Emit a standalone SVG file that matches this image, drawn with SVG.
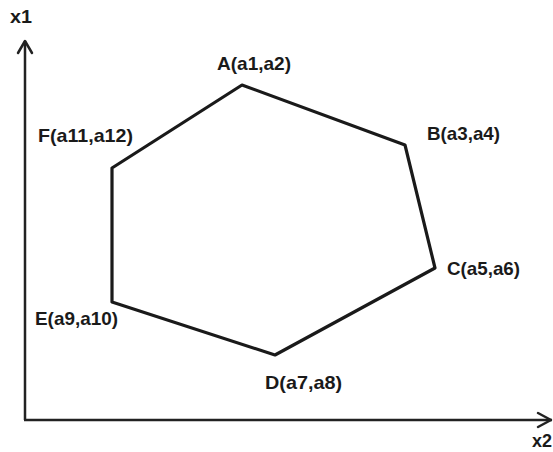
<svg xmlns="http://www.w3.org/2000/svg" width="553" height="452" viewBox="0 0 553 452">
<style>
.lbl{font-family:"Liberation Sans",Arial,sans-serif;font-size:19px;font-weight:bold;fill:#1a1a1a}
.ax{stroke:#222;stroke-width:2.5;fill:none}
.arr{stroke:#222;stroke-width:2.5;fill:none;stroke-linecap:round;stroke-linejoin:round}
.hex{stroke:#1a1a1a;stroke-width:3.2;fill:none;stroke-linejoin:round}
</style>
<rect width="553" height="452" fill="#fff"/>
<g id="axes">
<line class="ax" x1="25" y1="41" x2="25" y2="420"/>
<line class="ax" x1="24" y1="420" x2="552" y2="420"/>
<polyline class="arr" points="18,53 25,41 32,53"/>
<polyline class="arr" points="538,413 551,420 538,427"/>
<text class="lbl" x="10" y="23" textLength="22" lengthAdjust="spacingAndGlyphs">x1</text>
<text class="lbl" x="532" y="447" textLength="20" lengthAdjust="spacingAndGlyphs">x2</text>
</g>
<g id="hexagon">
<polygon class="hex" points="242,85 405,145 435,268 275,355 112,302 112,168"/>
</g>
<g id="A"><text class="lbl" x="217" y="70" textLength="74" lengthAdjust="spacingAndGlyphs">A(a1,a2)</text></g>
<g id="B"><text class="lbl" x="427" y="140" textLength="73" lengthAdjust="spacingAndGlyphs">B(a3,a4)</text></g>
<g id="C"><text class="lbl" x="447" y="275" textLength="73" lengthAdjust="spacingAndGlyphs">C(a5,a6)</text></g>
<g id="D"><text class="lbl" x="265" y="389" textLength="77" lengthAdjust="spacingAndGlyphs">D(a7,a8)</text></g>
<g id="E"><text class="lbl" x="35" y="325" textLength="83" lengthAdjust="spacingAndGlyphs">E(a9,a10)</text></g>
<g id="F"><text class="lbl" x="38" y="142" textLength="95" lengthAdjust="spacingAndGlyphs">F(a11,a12)</text></g>
</svg>
